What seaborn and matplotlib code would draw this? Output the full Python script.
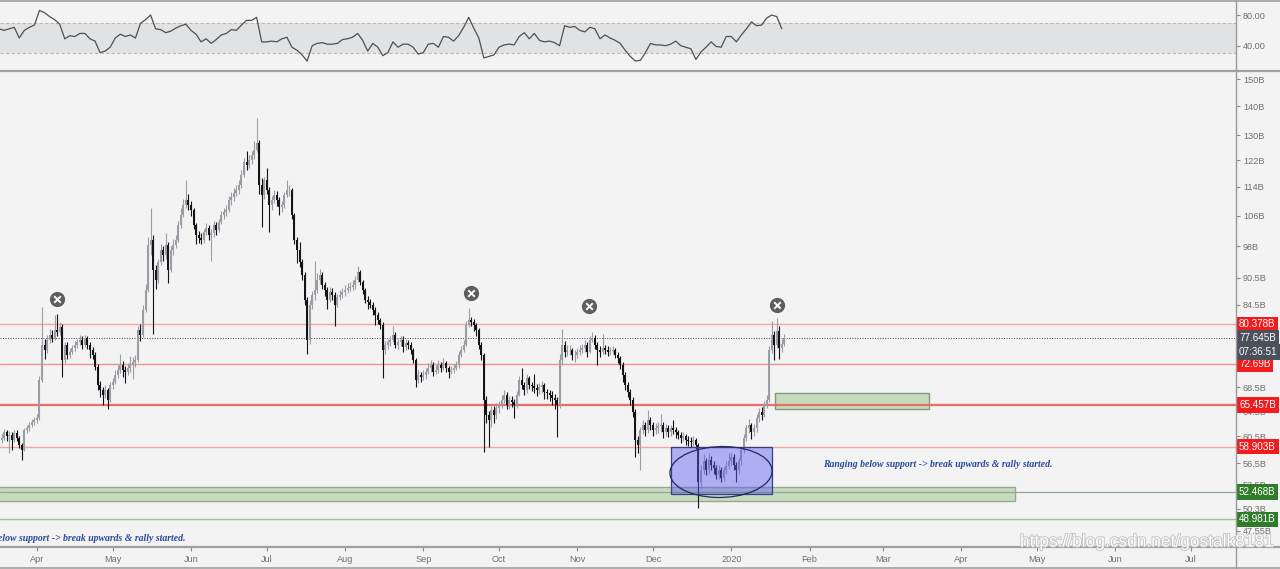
import numpy as np
import pandas as pd
import matplotlib
matplotlib.use("Agg")
import matplotlib.pyplot as plt
import matplotlib.dates as mdates
from matplotlib.patches import Rectangle, Ellipse
from matplotlib.lines import Line2D
import matplotlib.patheffects as pe
import seaborn as sns

# ---------------- data ----------------
START = "2019-03-17"
open_first = 59.5
close = [
    59.9, 60.2, 61.1, 60.5, 60.7, 59.9, 61.0, 60.2, 59.1, 58.4,
    61.4, 61.7, 62.2, 62.7, 63.0, 63.3, 69.8, 76.3, 75.3, 77.3,
    78.3, 77.7, 79.2, 78.8, 79.8, 73.4, 76.3, 74.4, 75.0, 75.7,
    76.3, 76.9, 77.3, 76.3, 77.7, 76.3, 75.3, 74.4, 72.1, 68.9,
    68.0, 67.2, 68.0, 66.3, 68.9, 69.4, 70.7, 71.6, 72.5, 71.6,
    71.2, 71.9, 72.5, 73.1, 73.4, 79.2, 78.3, 83.4, 87.8, 98.4,
    99.6, 92.3, 90.0, 94.2, 97.1, 95.9, 98.4, 92.3, 97.1, 98.4,
    99.6, 103.5, 106.2, 108.9, 110.3, 108.9, 107.5, 103.5, 100.9, 100.1,
    99.6, 101.7, 102.7, 100.9, 101.4, 103.5, 102.2, 104.3, 106.2, 106.9,
    107.5, 110.3, 111.2, 112.4, 113.1, 114.6, 117.6, 121.4, 120.6, 122.1,
    123.7, 125.3, 127.5, 114.6, 111.7, 116.0, 113.1, 108.9, 110.3, 111.7,
    110.3, 108.4, 108.9, 111.7, 113.1, 113.1, 106.2, 99.6, 97.1, 94.2,
    91.2, 85.5, 77.3, 84.5, 86.7, 87.8, 90.0, 91.2, 88.9, 87.8,
    85.5, 87.3, 86.7, 84.5, 86.1, 86.7, 87.3, 87.8, 88.2, 88.4,
    88.9, 90.0, 91.8, 89.5, 87.8, 85.5, 85.1, 84.5, 83.4, 82.3,
    81.3, 80.3, 75.3, 76.3, 76.9, 77.3, 78.3, 76.3, 76.9, 77.3,
    75.9, 76.7, 76.3, 75.3, 73.4, 69.8, 70.7, 70.3, 70.7, 71.2,
    71.9, 72.5, 71.2, 71.6, 72.5, 71.9, 72.9, 71.9, 71.2, 71.6,
    71.9, 72.5, 74.4, 75.3, 76.3, 80.3, 81.3, 80.9, 80.3, 79.2,
    76.3, 74.4, 66.3, 63.8, 63.0, 64.7, 63.8, 65.0, 65.5, 66.3,
    67.2, 65.5, 66.3, 66.0, 65.5, 67.2, 69.8, 68.9, 68.0, 70.1,
    68.9, 68.7, 68.4, 68.0, 68.5, 68.9, 67.7, 67.5, 67.2, 66.7,
    66.3, 65.5, 73.4, 76.3, 75.0, 75.3, 75.3, 74.4, 74.4, 75.0,
    75.3, 75.7, 76.3, 75.0, 77.3, 77.7, 76.3, 75.3, 75.0, 75.7,
    75.3, 75.0, 75.1, 75.3, 74.4, 73.8, 72.5, 70.7, 68.9, 67.7,
    66.3, 64.3, 59.9, 59.1, 61.4, 62.2, 61.4, 63.0, 62.2, 61.4,
    61.7, 62.1, 62.2, 61.1, 61.7, 61.1, 61.7, 61.4, 61.1, 60.7,
    60.2, 60.5, 59.9, 59.8, 59.6, 59.9, 59.1, 53.8, 55.5, 56.8,
    55.5, 57.0, 56.2, 55.8, 54.8, 55.5, 54.4, 55.5, 56.1, 56.8,
    57.4, 56.2, 55.5, 56.8, 58.4, 60.2, 61.7, 62.2, 61.1, 61.7,
    63.3, 64.3, 63.8, 65.5, 66.3, 75.3, 78.3, 76.3, 79.0, 75.7,
    76.5, 77.645,
]
high = [
    60.6, 60.9, 61.6, 61.5, 61.3, 61.2, 61.5, 61.4, 60.5, 59.4,
    61.8, 62.3, 62.8, 63.2, 63.6, 64.0, 70.5, 84.0, 77.5, 78.2,
    79.5, 79.2, 82.3, 82.5, 80.8, 80.4, 76.9, 76.8, 75.8, 76.3,
    77.0, 77.5, 78.2, 78.0, 78.3, 78.1, 76.8, 75.9, 74.9, 72.6,
    69.6, 68.6, 68.9, 68.4, 69.4, 70.2, 71.5, 72.5, 74.6, 73.2,
    72.3, 72.8, 74.2, 74.0, 74.3, 80.1, 80.5, 84.5, 89.0, 100.5,
    108.0, 100.8, 93.5, 95.0, 98.5, 98.0, 101.5, 99.2, 98.0, 99.8,
    101.0, 104.5, 108.0, 110.5, 116.0, 112.0, 110.0, 108.2, 104.0, 102.0,
    101.3, 102.5, 104.0, 103.5, 102.5, 104.5, 104.2, 105.2, 107.3, 108.0,
    108.9, 111.5, 112.5, 113.8, 114.5, 116.0, 119.0, 122.8, 125.0, 123.5,
    125.0, 128.0, 136.0, 128.5, 116.5, 117.0, 119.5, 114.0, 111.5, 113.0,
    112.8, 111.0, 110.0, 112.5, 116.0, 114.5, 113.8, 106.8, 100.5, 99.0,
    95.0, 91.8, 86.2, 85.5, 87.5, 94.5, 91.5, 92.5, 91.8, 89.5,
    88.3, 88.5, 88.2, 87.2, 86.8, 87.8, 88.2, 88.8, 89.2, 89.5,
    90.0, 91.0, 93.2, 92.3, 90.0, 88.2, 86.5, 85.8, 85.0, 84.0,
    83.0, 81.8, 80.8, 77.0, 77.5, 78.0, 80.0, 78.8, 77.5, 78.0,
    78.0, 77.5, 77.2, 76.8, 75.8, 73.8, 71.5, 71.3, 71.5, 72.0,
    72.8, 73.5, 73.0, 72.5, 73.4, 73.0, 73.8, 73.3, 72.4, 72.3,
    72.6, 73.3, 75.2, 76.0, 77.2, 81.0, 83.8, 82.0, 81.5, 80.7,
    79.6, 76.8, 74.8, 67.0, 64.5, 65.5, 65.3, 65.8, 66.2, 67.2,
    68.0, 67.7, 67.0, 67.0, 66.5, 67.8, 70.5, 72.0, 69.5, 70.8,
    70.5, 69.5, 70.9, 69.0, 69.2, 69.6, 69.2, 68.2, 68.0, 67.8,
    67.3, 66.8, 74.5, 79.5, 77.0, 76.3, 76.2, 75.8, 75.3, 75.8,
    76.2, 76.5, 77.2, 76.8, 78.0, 78.8, 78.2, 76.8, 76.0, 78.4,
    76.3, 76.0, 75.9, 76.0, 75.8, 74.9, 74.2, 73.0, 71.2, 69.5,
    68.3, 66.8, 64.8, 60.5, 62.0, 63.0, 62.8, 64.7, 63.5, 62.8,
    62.6, 62.8, 64.0, 62.7, 62.4, 62.2, 62.3, 63.0, 61.9, 61.5,
    61.2, 61.2, 60.9, 60.5, 60.4, 60.6, 60.3, 59.5, 56.2, 57.8,
    57.3, 58.0, 57.5, 56.8, 56.3, 56.2, 56.0, 56.0, 56.8, 58.0,
    58.0, 57.8, 56.6, 57.3, 58.9, 60.8, 62.3, 63.2, 62.6, 62.4,
    64.0, 65.0, 65.2, 66.2, 67.2, 76.0, 81.0, 79.0, 81.8, 80.0,
    77.5, 78.5,
]
low = [
    59.0, 59.4, 59.9, 59.8, 57.9, 58.4, 59.6, 59.8, 58.7, 56.9,
    58.2, 61.0, 61.3, 61.9, 62.3, 62.5, 63.0, 69.5, 73.6, 74.8,
    76.6, 76.9, 77.2, 78.0, 78.2, 70.4, 72.8, 73.6, 73.9, 74.5,
    75.2, 75.8, 76.3, 75.6, 75.9, 75.5, 73.9, 73.7, 71.5, 68.0,
    66.9, 65.5, 66.6, 64.9, 66.0, 68.2, 69.0, 70.1, 71.0, 70.4,
    69.3, 70.6, 71.3, 70.0, 72.2, 73.0, 77.0, 77.8, 82.9, 87.3,
    96.0, 78.4, 88.0, 89.2, 93.5, 94.5, 95.0, 89.3, 91.8, 96.0,
    97.5, 99.0, 102.8, 105.5, 108.0, 107.5, 106.0, 102.5, 98.5, 98.8,
    98.5, 98.9, 100.8, 99.5, 94.5, 100.5, 101.0, 101.7, 103.7, 105.2,
    105.8, 106.9, 109.0, 110.0, 111.5, 112.0, 113.8, 116.9, 119.0, 119.5,
    121.0, 122.5, 124.5, 112.0, 103.0, 110.5, 112.0, 101.7, 107.5, 109.5,
    108.5, 106.2, 107.0, 108.0, 111.0, 111.5, 105.0, 98.5, 94.0, 93.0,
    90.0, 84.5, 74.6, 76.5, 83.5, 85.5, 87.0, 89.0, 88.0, 86.5,
    83.5, 85.0, 85.5, 80.0, 84.0, 85.5, 86.0, 86.5, 87.0, 87.5,
    87.8, 88.0, 89.5, 88.8, 86.8, 84.8, 83.5, 83.8, 82.3, 80.3,
    80.5, 79.5, 70.2, 74.5, 75.5, 76.0, 76.8, 75.8, 75.5, 76.0,
    75.0, 75.3, 75.5, 74.5, 72.8, 68.5, 69.2, 69.5, 69.8, 70.0,
    70.8, 71.2, 70.5, 70.8, 71.0, 71.2, 71.5, 71.2, 70.2, 70.8,
    71.0, 71.5, 72.0, 74.0, 75.0, 76.0, 79.8, 80.0, 79.0, 78.0,
    75.5, 73.5, 58.1, 62.5, 58.9, 62.0, 62.5, 63.2, 64.2, 65.0,
    65.8, 64.8, 64.8, 65.2, 63.3, 65.0, 67.0, 68.2, 67.2, 67.5,
    68.2, 67.8, 67.6, 67.0, 67.3, 67.5, 66.5, 66.5, 66.2, 65.5,
    64.8, 60.4, 65.0, 72.5, 74.0, 74.2, 74.3, 73.5, 73.0, 73.8,
    74.3, 74.8, 75.0, 74.0, 74.7, 76.8, 75.5, 72.5, 74.0, 74.5,
    74.5, 74.2, 74.3, 74.5, 73.8, 72.8, 71.8, 69.5, 68.0, 66.8,
    65.5, 63.5, 57.4, 58.0, 55.5, 60.8, 60.6, 61.0, 61.5, 60.5,
    60.8, 61.0, 61.2, 60.3, 60.5, 60.4, 60.6, 60.8, 60.3, 60.0,
    59.5, 59.7, 59.2, 59.0, 58.9, 59.0, 58.5, 50.4, 53.0, 55.0,
    54.8, 55.0, 55.5, 55.0, 54.2, 54.3, 53.8, 54.0, 55.0, 55.6,
    56.2, 55.5, 53.8, 55.0, 56.3, 58.0, 59.8, 61.0, 60.0, 60.6,
    61.2, 62.8, 63.0, 63.5, 65.0, 66.0, 74.8, 73.5, 75.8, 73.6,
    75.0, 76.0,
]
# RSI(14), one reading every second day
rsi = [
    62, 60, 62, 64, 50, 60, 64, 67, 86, 83,
    78, 74, 68, 49, 53, 52, 56, 56, 49, 46,
    31, 33, 38, 50, 55, 52, 54, 50, 69, 74,
    80, 62, 61, 57, 59, 63, 66, 68, 60, 55,
    45, 49, 43, 48, 54, 56, 61, 60, 67, 73,
    73, 77, 45, 45, 46, 45, 49, 51, 38, 34,
    28, 20, 40, 43, 44, 42, 42, 43, 48, 49,
    51, 56, 47, 33, 43, 38, 27, 31, 45, 38,
    42, 42, 38, 29, 31, 42, 43, 38, 52, 51,
    46, 53, 64, 77, 63, 50, 24, 26, 28, 38,
    41, 42, 41, 52, 57, 49, 56, 47, 45, 46,
    44, 40, 66, 64, 65, 60, 58, 64, 62, 49,
    54, 50, 47, 43, 34, 26, 20, 21, 31, 43,
    41, 41, 40, 42, 46, 40, 38, 36, 22, 32,
    38, 45, 39, 38, 52, 52, 45, 54, 62, 71,
    66, 67, 76, 80, 78, 62,
]
price_ticks = [150, 140, 130, 122, 114, 106, 98, 90.5, 84.5, 68.5, 64.5, 60.5, 56.5, 53.5, 50.3, 47.55]
price_tick_labels = ["150B", "140B", "130B", "122B", "114B", "106B", "98B", "90.5B", "84.5B",
                     "68.5B", "64.5B", "60.5B", "56.5B", "53.5B", "50.3B", "47.55B"]
rsi_ticks = [80, 40]
rsi_tick_labels = ["80.00", "40.00"]
month_starts = ["2019-04-01", "2019-05-01", "2019-06-01", "2019-07-01", "2019-08-01", "2019-09-01",
                "2019-10-01", "2019-11-01", "2019-12-01", "2020-01-01", "2020-02-01", "2020-03-01",
                "2020-04-01", "2020-05-01", "2020-06-01", "2020-07-01"]
month_labels = ["Apr", "May", "Jun", "Jul", "Aug", "Sep", "Oct", "Nov", "Dec", "2020",
                "Feb", "Mar", "Apr", "May", "Jun", "Jul"]
red_levels = [80.378, 72.69, 65.457, 58.903]
red_labels = ["80.378B", "72.69B", "65.457B", "58.903B"]
last_price = 77.645
green_levels = [52.468, 48.981]
green_labels = ["52.468B", "48.981B"]
countdown = "07:36:51"
# rejection marks (day offset from START, value)
mark_days = [22.9, 186.9, 233.6, 308.1]
mark_vals = [85.8, 87.0, 84.3, 84.5]
note = "Ranging below support -> break upwards & rally started."
watermark = "https://blog.csdn.net/gostalk8181"

assert len(close) == len(high) == len(low)

# ---------------- style ----------------
BG = "#f3f3f3"
sns.set_theme(style="white", rc={"figure.facecolor": BG, "axes.facecolor": BG,
                                 "savefig.facecolor": BG})
plt.rcParams["font.family"] = ["Liberation Sans", "DejaVu Sans"]

W, H = 1280, 569
fig = plt.figure(figsize=(W / 100, H / 100), dpi=100)
RIGHT = 1236


def fx(px):
    return px / W


def fy(py):
    return 1 - py / H


ax_rsi = fig.add_axes([0, fy(71), fx(RIGHT), fy(1) - fy(71)])
ax = fig.add_axes([0, fy(547), fx(RIGHT), fy(72) - fy(547)])

t0 = mdates.date2num(pd.Timestamp(START))
dates = pd.date_range(START, periods=len(close), freq="D")
xd = mdates.date2num(dates)
opens = np.array([open_first] + close[:-1])
c = np.array(close)
hi = np.array(high)
lo = np.array(low)
up = c >= opens
UPC, DNC = "#9a9da4", "#141414"
cols = np.where(up, UPC, DNC)

# ---------------- main price panel ----------------
ax.set_yscale("log")
ax.set_xlim(t0 + 0.36, t0 + 489.9)
ax.set_ylim(45.65, 152.7)

# zones
ax.add_patch(Rectangle((t0 - 5, 51.3), 407.3, 53.2 - 51.3, fc="#c6dbbb", ec="#95a795", lw=1.0, zorder=1))
ax.add_patch(Rectangle((t0 + 307.3, 64.8), 61.0, 67.5 - 64.8, fc="#c6dbbb", ec="#7f9a7f", lw=1.0, zorder=1))

# levels
red_cols = ["#f6a5a5", "#f39191", "#f06a6a", "#f6a5a5"]
red_lw = [1.0, 1.0, 1.6, 1.0]
for v, cc, lw in zip(red_levels, red_cols, red_lw):
    ax.axhline(v, color=cc, lw=lw, zorder=1.5)
ax.axhline(green_levels[0], color="#93a893", lw=0.9, zorder=1.6)
ax.axhline(green_levels[1], color="#a3bea3", lw=1.0, zorder=1.5)
ax.axhline(last_price, color="#444444", lw=0.7, ls=(0, (1, 1.6)), zorder=1.5)

# candles
ax.vlines(xd, lo, hi, colors=cols, lw=0.8, zorder=3)
ax.vlines(xd, np.minimum(opens, c), np.maximum(opens, c), colors=cols, lw=1.45,
          capstyle="butt", zorder=3.1)

# blue range box + ellipse
ax.add_patch(Rectangle((t0 + 266.1, 52.3), 40.0, 58.8 - 52.3, fc="#5a5af2", alpha=0.45,
                       ec="none", lw=0, zorder=4))
ax.add_patch(Rectangle((t0 + 266.1, 52.3), 40.0, 58.8 - 52.3, fc="none",
                       ec="#3a3d80", lw=0.9, zorder=4.1))
ax.add_patch(Ellipse((721 / RIGHT, (547 - 472) / 475), 102 / RIGHT, 51 / 475, angle=-4,
                     transform=ax.transAxes, fc="none", ec="#23285e", lw=0.9, zorder=4.2))

# rejection marks
mx = [t0 + d for d in mark_days]
ax.scatter(mx, mark_vals, s=120, color="#5e5e5e", zorder=6, linewidths=0)
ax.scatter(mx, mark_vals, s=22, marker="x", color="white", linewidths=1.4, zorder=7)

# notes
ax.text(t0 + 326.3, 56.3, note, fontsize=7, fontstyle="italic", fontweight="bold",
        family=["Liberation Serif", "DejaVu Serif"], color="#2b4a9e", va="center", ha="left", zorder=6)
ax.text(t0 + 74.0, 46.6, note, fontsize=7, fontstyle="italic", fontweight="bold",
        family=["Liberation Serif", "DejaVu Serif"], color="#2b4a9e", va="center", ha="right",
        zorder=6, clip_on=True)

# axes styling
for s in ax.spines.values():
    s.set_visible(False)
ax.yaxis.tick_right()
ax.yaxis.set_minor_locator(matplotlib.ticker.NullLocator())
ax.set_yticks(price_ticks)
ax.set_yticklabels(price_tick_labels)
ax.tick_params(axis="y", which="major", direction="out", length=3, width=0.8, color="#8a8a8a",
               labelsize=6.6, labelcolor="#707070", pad=2, right=True, left=False)
ax.set_xticks(mdates.date2num(pd.to_datetime(month_starts)))
ax.set_xticklabels(month_labels)
ax.tick_params(axis="x", direction="out", length=3, width=0.8, color="#8a8a8a",
               labelsize=6.6, labelcolor="#707070", pad=3, bottom=True)
ax.grid(False)


def price_label(val, text, fc, dy=0):
    ax.annotate(text, xy=(1, val), xycoords=("axes fraction", "data"), xytext=(2.2, dy),
                textcoords="offset points", ha="left", va="center", fontsize=7.1, color="white",
                bbox=dict(boxstyle="square,pad=0.28", fc=fc, ec="none"),
                annotation_clip=False, zorder=20)


for v, t in zip(red_levels, red_labels):
    price_label(v, t, "#f21c1c")
price_label(last_price, f"{last_price:.3f}B", "#4b505b")
price_label(last_price, countdown, "#4b505b", dy=-10.2)
for v, t in zip(green_levels, green_labels):
    price_label(v, t, "#2f7d2a")

# ---------------- RSI panel ----------------
rsi_dates = pd.date_range(START, periods=len(rsi), freq="2D")
ax_rsi.set_xlim(ax.get_xlim())
ax_rsi.set_ylim(7.0, 98.3)
ax_rsi.axhspan(30, 70, color="#e1e2e4", lw=0, zorder=0.5)
ax_rsi.axhline(70, color="#b8b8b8", lw=0.8, ls=(0, (3, 2)), zorder=0.6)
ax_rsi.axhline(30, color="#b8b8b8", lw=0.8, ls=(0, (3, 2)), zorder=0.6)
sns.lineplot(x=mdates.date2num(rsi_dates), y=rsi, ax=ax_rsi, color="#505050", lw=0.9, zorder=2)
for s in ax_rsi.spines.values():
    s.set_visible(False)
ax_rsi.set_xticks([])
ax_rsi.yaxis.tick_right()
ax_rsi.set_yticks(rsi_ticks)
ax_rsi.set_yticklabels(rsi_tick_labels)
ax_rsi.tick_params(axis="y", direction="out", length=3, width=0.8, color="#8a8a8a",
                   labelsize=6.6, labelcolor="#707070", pad=2, right=True, left=False)
ax_rsi.set_xlabel("")
ax_rsi.set_ylabel("")
ax_rsi.grid(False)

# ---------------- frame lines ----------------
for py, lw in [(0.8, 1.2), (71, 1.6), (547, 1.6), (567.5, 1.2)]:
    fig.add_artist(Line2D([0, 1], [fy(py), fy(py)], transform=fig.transFigure, color="#a0a0a0", lw=lw))
fig.add_artist(Line2D([fx(RIGHT), fx(RIGHT)], [fy(0), fy(568)], transform=fig.transFigure,
                      color="#9a9a9a", lw=1.0))

fig.text(fx(1020), fy(542), watermark, fontsize=12.5, color="white", va="center", ha="left",
         path_effects=[pe.withStroke(linewidth=1.3, foreground="#c2c2c2")], zorder=30)

fig.savefig("out.png", dpi=100, facecolor=BG)
